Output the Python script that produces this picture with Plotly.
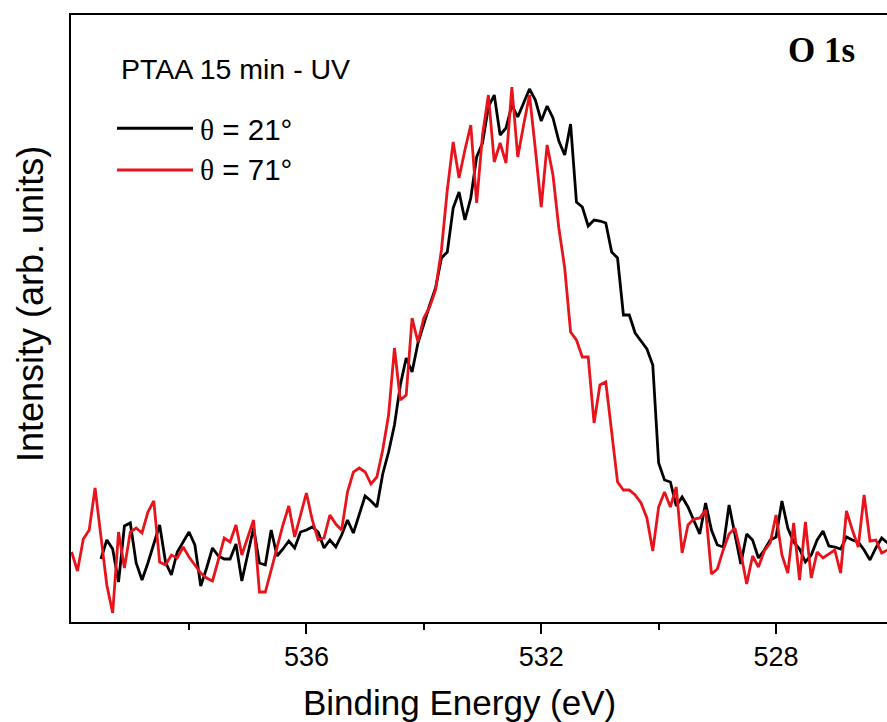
import numpy as np
import plotly.graph_objects as go

# Binding energy grid (eV): 0.1 eV steps
start_red, start_black, stop_e, step_e = 540.0, 539.5, 526.1, 0.1

# theta = 71 deg (red), 540.0 -> 526.1 eV
red_71 = [
    70, 51, 83, 92, 134, 87, 37, 9, 90, 54,
    90, 94, 89, 110, 121, 60, 57, 67, 64, 75,
    65, 57, 49, 44, 41, 62, 84, 80, 97, 67,
    85, 102, 30, 30, 52, 75, 97, 116, 85, 107,
    129, 102, 82, 84, 107, 98, 92, 130, 150, 154,
    150, 138, 145, 172, 207, 274, 222, 227, 304, 280,
    304, 315, 332, 372, 432, 480, 444, 472, 497, 419,
    487, 527, 460, 479, 459, 535, 465, 497, 527, 473,
    415, 477, 447, 394, 354, 290, 282, 265, 265, 199,
    237, 240, 192, 140, 132, 132, 127, 119, 104, 71,
    115, 130, 115, 135, 69, 97, 103, 104, 112, 48,
    53, 72, 88, 94, 69, 38, 66, 55, 71, 79,
    107, 67, 49, 99, 42, 100, 44, 70, 64, 68,
    72, 49, 111, 92, 75, 127, 81, 82, 69, 72,
]

# theta = 21 deg (black), 539.5 -> 526.1 eV
black_21 = [
    63, 82, 73, 40, 96,
    99, 59, 42, 59, 78, 97, 60, 47, 70, 80,
    90, 77, 36, 54, 74, 66, 63, 63, 78, 41,
    67, 94, 59, 57, 92, 66, 73, 81, 74, 90,
    92, 95, 90, 74, 82, 75, 87, 102, 89, 107,
    126, 121, 115, 148, 170, 197, 237, 264, 250, 279,
    299, 317, 334, 364, 370, 414, 430, 402, 424, 465,
    479, 515, 527, 487, 494, 517, 505, 519, 533, 522,
    501, 516, 504, 481, 467, 498, 420, 415, 396, 402,
    401, 399, 370, 364, 307, 307, 289, 281, 273, 257,
    159, 142, 140, 116, 125, 115, 102, 88, 119, 92,
    77, 75, 117, 88, 58, 88, 82, 64, 72, 82,
    85, 121, 94, 80, 73, 60, 67, 82, 91, 76,
    75, 73, 85, 82, 80, 72, 62, 74, 84, 79,
]

x_ticks = [536, 532, 528]
x_minor = [538, 534, 530]
legend_labels = ["θ = 21°", "θ = 71°"]

e_red = np.round(start_red - step_e * np.arange(len(red_71)), 1)
e_black = np.round(start_black - step_e * np.arange(len(black_21)), 1)

RED = "#E8141B"
FONT = "Liberation Sans"

fig = go.Figure()
fig.add_trace(go.Scatter(x=e_black, y=black_21, mode="lines", name=legend_labels[0],
                         line=dict(color="black", width=2.8), showlegend=False))
fig.add_trace(go.Scatter(x=e_red, y=red_71, mode="lines", name=legend_labels[1],
                         line=dict(color=RED, width=2.8), showlegend=False))

L, T, B = 71, 15, 100
W, H = 887, 722
pw, ph = W - L, H - T - B


def px(xp):
    return (xp - L) / pw


def py(yp):
    return (H - B - yp) / ph


fig.update_layout(
    width=W, height=H,
    margin=dict(l=L, r=0, t=T, b=B),
    plot_bgcolor="white", paper_bgcolor="white",
    font=dict(family=FONT, color="black"),
    xaxis=dict(range=[540.01, 526.11], tickmode="array", tickvals=x_ticks,
               ticktext=[str(v) for v in x_ticks],
               ticks="outside", ticklen=10, tickwidth=2, tickcolor="black",
               showline=True, linewidth=2, linecolor="black", mirror=True,
               showgrid=False, zeroline=False,
               tickfont=dict(size=27, family=FONT, color="black"),
               minor=dict(tickmode="array", tickvals=x_minor, ticks="outside",
                          ticklen=6, tickwidth=2, tickcolor="black", showgrid=False)),
    yaxis=dict(range=[0, 607], showticklabels=False, ticks="",
               showline=True, linewidth=2, linecolor="black",
               showgrid=False, zeroline=False),
    showlegend=False,
)

ann = []
ann.append(dict(text="Binding Energy (eV)", x=px(459), y=py(702), xref="paper", yref="paper",
                xanchor="center", yanchor="middle", showarrow=False,
                font=dict(size=35, family=FONT, color="black")))
ann.append(dict(text="Intensity (arb. units)", x=px(30), y=py(304), xref="paper", yref="paper",
                xanchor="center", yanchor="middle", textangle=-90, showarrow=False,
                font=dict(size=36, family=FONT, color="black")))
ann.append(dict(text="PTAA 15 min - UV", x=px(119), y=py(69), xref="paper", yref="paper",
                xanchor="left", yanchor="middle", showarrow=False,
                font=dict(size=28.5, family=FONT, color="black")))
for lbl, yp in zip(legend_labels, [129, 170]):
    t = '<span style="font-family:Liberation Serif">θ</span>' + lbl[1:]
    ann.append(dict(text=t, x=px(198), y=py(yp), xref="paper", yref="paper",
                    xanchor="left", yanchor="middle", showarrow=False,
                    font=dict(size=29.5, family=FONT, color="black")))
ann.append(dict(text="<b>O 1s</b>", x=px(821), y=py(50), xref="paper", yref="paper",
                xanchor="center", yanchor="middle", showarrow=False,
                font=dict(size=35, family="Liberation Serif", color="black")))
fig.update_layout(annotations=ann)

shapes = []
for col, yp in zip(["black", RED], [128.3, 170]):
    shapes.append(dict(type="line", xref="paper", yref="paper",
                       x0=px(117), x1=px(193), y0=py(yp), y1=py(yp),
                       line=dict(color=col, width=3)))
fig.update_layout(shapes=shapes)

fig.write_html("out.html")
